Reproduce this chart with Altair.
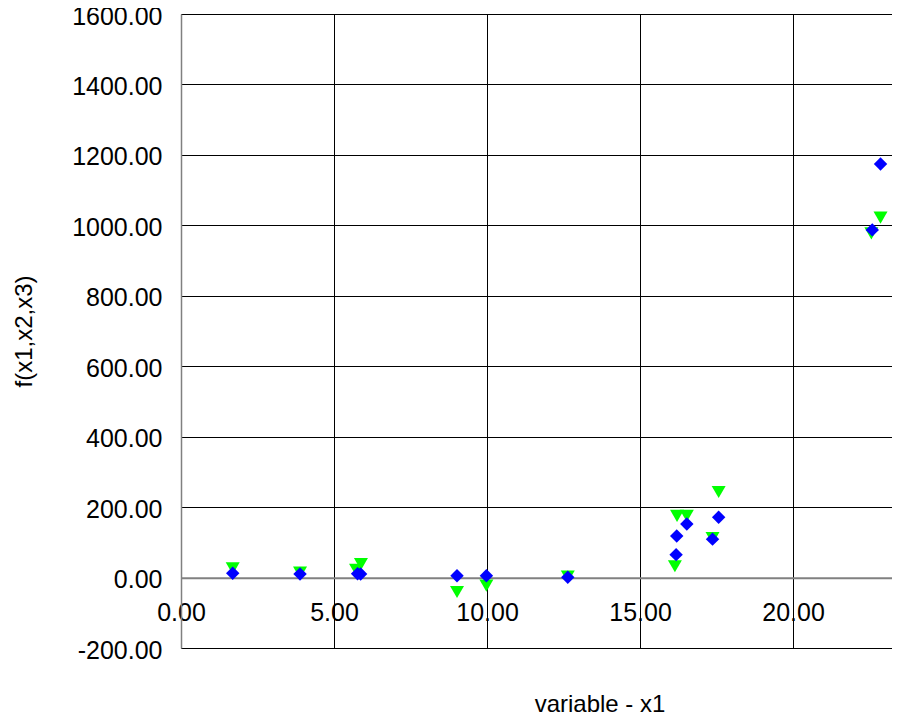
import altair as alt
import pandas as pd

blue_x = [1.69, 3.89, 5.77, 5.87, 9.02, 9.98, 12.64, 16.18, 16.20, 16.53, 17.37, 17.57, 22.59, 22.86]
blue_y = [12, 10, 11, 10, 5, 5, 1, 65, 118, 152, 109, 171, 987, 1174]
green_x = [1.69, 3.89, 5.72, 5.88, 9.02, 9.98, 12.64, 16.14, 16.21, 16.53, 17.37, 17.57, 22.56, 22.86]
green_y = [26, 14, 22, 38, -41, -23, 3, 32, 175, 175, 112, 243, 977, 1022]

x_ticks = [0, 5, 10, 15, 20]
y_ticks = [-200, 0, 200, 400, 600, 800, 1000, 1200, 1400, 1600]

df_b = pd.DataFrame({"x": blue_x, "y": blue_y})
df_g = pd.DataFrame({"x": green_x, "y": green_y})

FONT = "Liberation Sans"

xs = alt.Scale(domain=[0, 23.235], nice=False, zero=False)
ys = alt.Scale(domain=[-200, 1600], nice=False, zero=False)

xaxis = alt.Axis(
    values=x_ticks, format=".2f", offset=-70.3, ticks=False,
    labelFontSize=25, labelFont=FONT, labelColor="black",
    labelBaseline="middle", labelPadding=35, labelFlush=False, labelOverlap=False,
    domainColor="#808080", domainWidth=2,
    grid=True, gridColor="black", gridWidth=1, gridOpacity=1,
    title="variable - x1", titleFont=FONT, titleFontSize=24, titleFontWeight="normal",
    titleColor="black", titleX=418.5, titleY=134, titleAlign="center",
    titleBaseline="alphabetic", titleAnchor="start",
)
yaxis = alt.Axis(
    values=y_ticks, format=".2f", ticks=False,
    labelExpr="replace(datum.label, '\u2212', '-')",
    labelFontSize=25, labelFont=FONT, labelColor="black",
    labelPadding=19, labelOffset=2, labelFlush=False, labelOverlap=False,
    domainColor="#808080", domainWidth=1.5,
    grid=True, gridColor="black", gridWidth=1, gridOpacity=1,
    title="f(x1,x2,x3)", titleFont=FONT, titleFontSize=24, titleFontWeight="normal",
    titleColor="black", titleAngle=270, titleX=-157, titleY=317,
    titleAlign="center", titleBaseline="middle", titleAnchor="start",
)

green = alt.Chart(df_g).mark_point(
    shape="triangle-down", filled=True, color="#00ff00", size=196, opacity=1
).encode(
    x=alt.X("x:Q", scale=xs, axis=xaxis),
    y=alt.Y("y:Q", scale=ys, axis=yaxis),
)
blue = alt.Chart(df_b).mark_point(
    shape="diamond", filled=True, color="#0000ff", size=180, opacity=1
).encode(
    x=alt.X("x:Q", scale=xs),
    y=alt.Y("y:Q", scale=ys),
)

chart = alt.layer(green, blue).properties(
    width=711, height=634,
    autosize=alt.AutoSizeParams(type="none"),
    padding={"left": 173, "top": 6, "right": 0, "bottom": 65},
).configure_view(stroke=None).configure(background="white")

chart.save("out.html", embed_options={"renderer": "svg", "actions": False})
